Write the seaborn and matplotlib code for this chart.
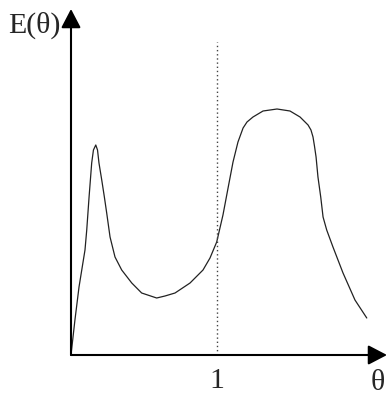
import matplotlib
matplotlib.use("Agg")
import matplotlib.pyplot as plt
import seaborn as sns
import pandas as pd

# Curve values (theta, E)
theta = [0.000, 0.027, 0.055, 0.096, 0.108, 0.124, 0.142, 0.154, 0.170, 0.182,
         0.192, 0.211, 0.229, 0.245, 0.268, 0.302, 0.348, 0.417, 0.485, 0.588,
         0.645, 0.714, 0.817, 0.906, 0.954, 1.000, 1.043, 1.078, 1.112, 1.146,
         1.181, 1.208, 1.249, 1.318, 1.414, 1.503, 1.572, 1.627, 1.647, 1.661,
         1.671, 1.682, 1.695, 1.714, 1.730, 1.755, 1.798, 1.867, 1.949, 2.030]
energy = [0.00, 0.35, 0.68, 1.05, 1.25, 1.58, 1.92, 2.05, 2.10, 2.05,
          1.92, 1.75, 1.58, 1.42, 1.18, 0.98, 0.85, 0.72, 0.62, 0.57,
          0.59, 0.62, 0.72, 0.85, 0.97, 1.13, 1.40, 1.67, 1.93, 2.13,
          2.27, 2.33, 2.38, 2.44, 2.46, 2.44, 2.38, 2.30, 2.25, 2.18,
          2.09, 1.98, 1.78, 1.58, 1.38, 1.25, 1.08, 0.82, 0.55, 0.37]

marker_x = 1.0
marker_top = 3.13
tick_values = [1]
tick_labels = ["1"]
x_label = "θ"
y_label = "E(θ)"

sns.set_style("white")
plt.rcParams["font.family"] = ["Liberation Serif", "DejaVu Serif"]

fig = plt.figure(figsize=(3.87, 3.96), dpi=100)
W, H = 387, 396
ax = fig.add_axes([71 / W, 41 / H, (387 - 71) / W, (355 - 9) / H])
ax.set_xlim(0, 316 / 145.7)
ax.set_ylim(0, 3.46)

df = pd.DataFrame({"theta": theta, "E": energy})
sns.lineplot(data=df, x="theta", y="E", ax=ax, color="#222222", lw=0.9,
             estimator=None, sort=False)

ax.vlines(marker_x, 0, marker_top, colors="#444444", linestyles=(0, (1, 2)), lw=1.0)

for s in ax.spines.values():
    s.set_visible(False)

arrow = dict(arrowstyle="-|>,head_length=1.15,head_width=0.6", lw=1.5, color="black",
             shrinkA=0, shrinkB=0)
ax.annotate("", xy=(1, 0), xytext=(0, 0), xycoords="axes fraction", arrowprops=arrow)
ax.annotate("", xy=(0, 1), xytext=(0, 0), xycoords="axes fraction", arrowprops=arrow)

ax.set_xticks(tick_values, labels=tick_labels)
ax.set_yticks([])
ax.tick_params(axis="x", length=0, pad=9, labelsize=21.5)
ax.set_xlabel("")
ax.set_ylabel("")

ax.text(2.107, -0.28, x_label, fontsize=21.5, ha="center", va="center", clip_on=False)
ax.text(-0.432, 3.30, y_label, fontsize=21.5, ha="left", va="center", clip_on=False)

fig.savefig("out.png", dpi=100)
